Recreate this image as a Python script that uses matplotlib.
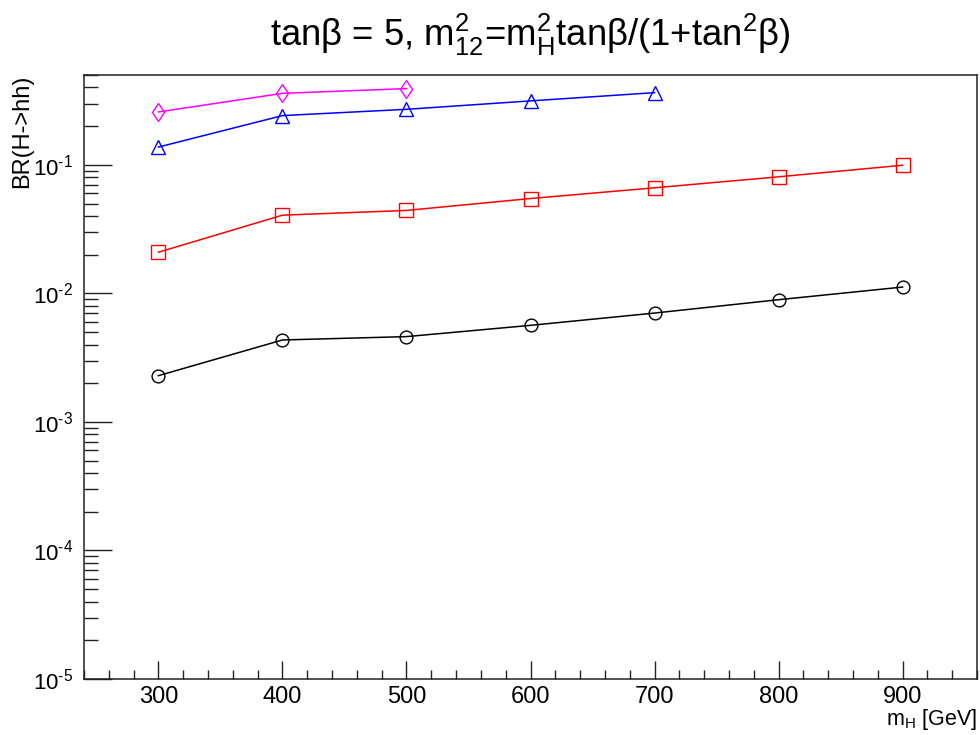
import numpy as np
import matplotlib
matplotlib.use("Agg")
import matplotlib.pyplot as plt
from matplotlib.ticker import LogLocator, FuncFormatter, MultipleLocator, NullFormatter

plt.rcParams.update({
    "font.family": ["Liberation Sans", "DejaVu Sans"],
    "mathtext.fontset": "custom",
    "mathtext.rm": "Liberation Sans",
    "mathtext.it": "Liberation Sans",
    "mathtext.bf": "Liberation Sans:bold",
    "mathtext.default": "regular",
})

# BR(H->hh) vs m_H, one curve per scenario
mh_black = [300, 400, 500, 600, 700, 800, 900]
br_black = [0.00229, 0.00434, 0.00461, 0.00564, 0.00703, 0.00893, 0.0112]
mh_red = [300, 400, 500, 600, 700, 800, 900]
br_red = [0.0209, 0.0406, 0.0442, 0.0547, 0.0663, 0.0807, 0.0993]
mh_blue = [300, 400, 500, 600, 700]
br_blue = [0.1375, 0.2416, 0.2704, 0.3144, 0.3645]
mh_mag = [300, 400, 500]
br_mag = [0.258, 0.360, 0.392]

fig = plt.figure(figsize=(9.8, 7.35), dpi=100)
ax = fig.add_axes([84 / 980, 1 - 679 / 735, (977 - 84) / 980, (679 - 75) / 735])

mk = dict(mfc="none", mew=1.0, lw=1.1)
ax.plot(mh_black, br_black, "-o", color="black", ms=9.2, **mk)
ax.plot(mh_red, br_red, "-s", color="#FF0000", ms=9.6, **mk)
ax.plot(mh_blue, br_blue, "-^", color="#0000FF", ms=10, **mk)
ax.plot(mh_mag, br_mag, "-d", color="#FF00FF", ms=9.6, **mk)

ax.set_yscale("log")
ax.set_xlim(240, 960)
ax.set_ylim(1e-5, 0.5)


def pow10(v, pos):
    e = int(round(np.log10(v)))
    return r"10$^{\text{%d}}$" % e


ax.yaxis.set_major_locator(LogLocator(base=10, numticks=10))
ax.yaxis.set_minor_locator(LogLocator(base=10, subs=np.arange(2, 10), numticks=20))
ax.yaxis.set_major_formatter(FuncFormatter(pow10))
ax.yaxis.set_minor_formatter(NullFormatter())
ax.xaxis.set_major_locator(MultipleLocator(100))
ax.xaxis.set_minor_locator(MultipleLocator(20))

ax.tick_params(axis="both", which="both", direction="in", top=False, right=False,
               width=1.0, color="#222222")
ax.tick_params(axis="y", which="major", length=20, pad=8, labelsize=16)
ax.tick_params(axis="y", which="minor", length=10)
ax.tick_params(axis="x", which="major", length=13, pad=5, labelsize=17)
ax.tick_params(axis="x", which="minor", length=6.5)
for s in ax.spines.values():
    s.set_linewidth(1.1)
    s.set_color("#222222")

fig.text(977 / 980, 1 - 725 / 735, "m$_{H}$ [GeV]", fontsize=15.5,
         ha="right", va="baseline")
fig.text(22 / 980, 1 - 75 / 735, "BR(H->hh)", fontsize=17, rotation=90,
         ha="center", va="top")

fig.text((84 + 977) / 2 / 980, 1 - 46 / 735,
         r"tan$\beta$ = 5, $m^{2}_{12}$=$m^{2}_{H}$tan$\beta$/(1+tan$^{2}\beta$)",
         fontsize=26.3, ha="center", va="baseline")

fig.savefig("out.png", dpi=100)
